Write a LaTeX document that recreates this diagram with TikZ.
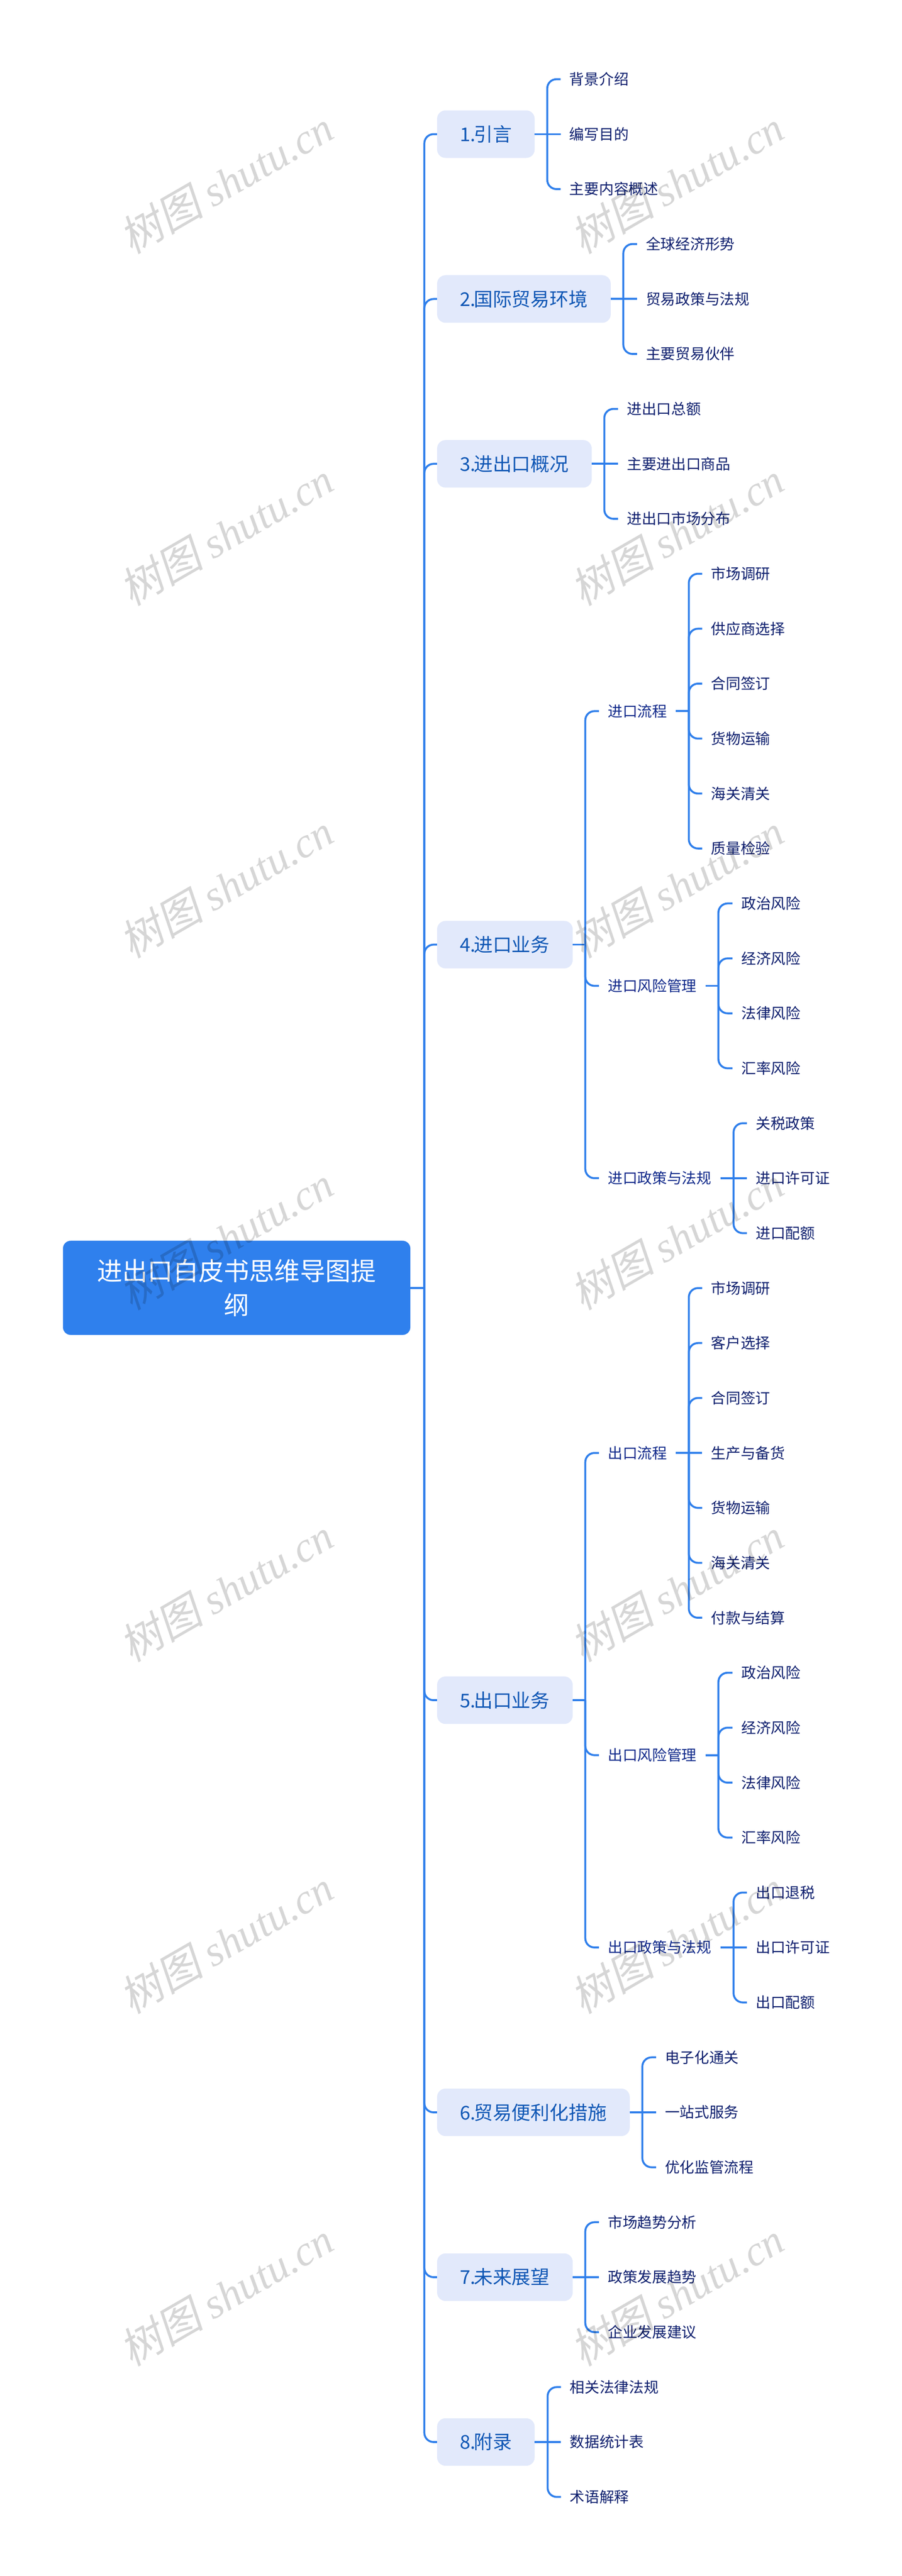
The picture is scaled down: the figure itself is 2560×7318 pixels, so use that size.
\documentclass[tikz,border=0pt]{standalone}
\usepackage{fontspec}
\setmainfont{Noto Sans CJK SC}
\newfontfamily\wmcjk[FakeSlant=0.2]{Noto Sans CJK SC}
\newfontfamily\wmlat{Liberation Serif}
\definecolor{linecol}{HTML}{2F7FEB}
\definecolor{rootcol}{HTML}{2F80ED}
\definecolor{tagfill}{HTML}{E2E9FB}
\definecolor{tagtext}{HTML}{0F57B5}
\definecolor{subtext}{HTML}{10298A}
\definecolor{leaftext}{HTML}{0E1F6E}
\tikzset{
  rootbox/.style={fill=rootcol,draw=rootcol,rounded corners=22pt,anchor=center,text=white,align=center,minimum width=986pt,minimum height=267pt,inner sep=0pt,font=\fontsize{72}{96}\selectfont},
  tagbox/.style={fill=tagfill,rounded corners=24pt,anchor=west,text=tagtext,minimum height=135pt,inner xsep=65pt,inner ysep=0pt,text height=46pt,text depth=5pt,font=\fontsize{54}{60}\selectfont},
  subnode/.style={anchor=west,text=subtext,inner xsep=25pt,inner ysep=0pt,text height=36pt,text depth=4pt,font=\fontsize{42}{48}\selectfont},
  leafnode/.style={anchor=west,text=leaftext,inner xsep=25pt,inner ysep=0pt,text height=36pt,text depth=4pt,font=\fontsize{42}{48}\selectfont},
  wire/.style={draw=linecol,line width=5.5pt},
  curvewire/.style={wire,rounded corners=26pt},
  wmark/.style={rotate=30,text=black,text opacity=0.16,inner sep=0pt,font=\fontsize{120}{130}\selectfont}
}
\newcommand{\rowy}[1]{225+156.1*(#1)}
\newcommand{\tagn}[3]{\node[tagbox] (#1) at (1241,{\rowy{#2}}) {#3};}
\newcommand{\subn}[3]{\node[subnode] (#1) at (1701,{\rowy{#2}}) {#3};}
\newcommand{\leafn}[4]{\node[leafnode] (#1) at (#2,{\rowy{#3}}) {#4};}
% stub from parent to branch line
\newcommand{\stub}[2]{\coordinate (bx#1) at (#2,0); \draw[wire] (#1.east) -- (#1.east -| bx#1);}
% bent connector from parent's branch to child
\newcommand{\bent}[2]{\draw[curvewire] (#1.east -| bx#1) -- (#2.west -| bx#1) -- (#2.west);}
% child on the parent's own row
\newcommand{\level}[2]{\draw[wire] (#1.east) -- (#2.west);}
\newcommand{\nk}{\kern-6pt}
\begin{document}
\begin{tikzpicture}[x=1pt,y=-1pt]
\useasboundingbox[fill=white] (0,0) rectangle (2560,7318);
% root
\node[rootbox] (root) at (672,3658.5) {进出口白皮书思维导图提\\纲};
% level 1
\tagn{a}{1}{1.\nk 引言}
\tagn{b}{4}{2.\nk 国际贸易环境}
\tagn{c}{7}{3.\nk 进出口概况}
\tagn{d}{15.75}{4.\nk 进口业务}
\tagn{e}{29.5}{5.\nk 出口业务}
\tagn{f}{37}{6.\nk 贸易便利化措施}
\tagn{g}{40}{7.\nk 未来展望}
\tagn{h}{43}{8.\nk 附录}
% root connectors
\stub{root}{1205}
\foreach \n in {a,b,c,d,e,f,g,h} {\bent{root}{\n}}
% 1
\leafn{a1}{1592}{0}{背景介绍}
\leafn{a2}{1592}{1}{编写目的}
\leafn{a3}{1592}{2}{主要内容概述}
\stub{a}{1554}\bent{a}{a1}\level{a}{a2}\bent{a}{a3}
% 2
\leafn{b1}{1809}{3}{全球经济形势}
\leafn{b2}{1809}{4}{贸易政策与法规}
\leafn{b3}{1809}{5}{主要贸易伙伴}
\stub{b}{1770}\bent{b}{b1}\level{b}{b2}\bent{b}{b3}
% 3
\leafn{c1}{1755}{6}{进出口总额}
\leafn{c2}{1755}{7}{主要进出口商品}
\leafn{c3}{1755}{8}{进出口市场分布}
\stub{c}{1716}\bent{c}{c1}\level{c}{c2}\bent{c}{c3}
% 4
\subn{d1}{11.5}{进口流程}
\subn{d2}{16.5}{进口风险管理}
\subn{d3}{20}{进口政策与法规}
\stub{d}{1662}\bent{d}{d1}\bent{d}{d2}\bent{d}{d3}
\leafn{d11}{1994}{9}{市场调研}
\leafn{d12}{1994}{10}{供应商选择}
\leafn{d13}{1994}{11}{合同签订}
\leafn{d14}{1994}{12}{货物运输}
\leafn{d15}{1994}{13}{海关清关}
\leafn{d16}{1994}{14}{质量检验}
\stub{d1}{1956}
\foreach \n in {d11,d12,d13,d14,d15,d16} {\bent{d1}{\n}}
\leafn{d21}{2080}{15}{政治风险}
\leafn{d22}{2080}{16}{经济风险}
\leafn{d23}{2080}{17}{法律风险}
\leafn{d24}{2080}{18}{汇率风险}
\stub{d2}{2040}
\foreach \n in {d21,d22,d23,d24} {\bent{d2}{\n}}
\leafn{d31}{2121}{19}{关税政策}
\leafn{d32}{2121}{20}{进口许可证}
\leafn{d33}{2121}{21}{进口配额}
\stub{d3}{2083}\bent{d3}{d31}\level{d3}{d32}\bent{d3}{d33}
% 5
\subn{e1}{25}{出口流程}
\subn{e2}{30.5}{出口风险管理}
\subn{e3}{34}{出口政策与法规}
\stub{e}{1662}\bent{e}{e1}\bent{e}{e2}\bent{e}{e3}
\leafn{e11}{1994}{22}{市场调研}
\leafn{e12}{1994}{23}{客户选择}
\leafn{e13}{1994}{24}{合同签订}
\leafn{e14}{1994}{25}{生产与备货}
\leafn{e15}{1994}{26}{货物运输}
\leafn{e16}{1994}{27}{海关清关}
\leafn{e17}{1994}{28}{付款与结算}
\stub{e1}{1956}\level{e1}{e14}
\foreach \n in {e11,e12,e13,e15,e16,e17} {\bent{e1}{\n}}
\leafn{e21}{2080}{29}{政治风险}
\leafn{e22}{2080}{30}{经济风险}
\leafn{e23}{2080}{31}{法律风险}
\leafn{e24}{2080}{32}{汇率风险}
\stub{e2}{2040}
\foreach \n in {e21,e22,e23,e24} {\bent{e2}{\n}}
\leafn{e31}{2121}{33}{出口退税}
\leafn{e32}{2121}{34}{出口许可证}
\leafn{e33}{2121}{35}{出口配额}
\stub{e3}{2083}\bent{e3}{e31}\level{e3}{e32}\bent{e3}{e33}
% 6
\leafn{f1}{1863}{36}{电子化通关}
\leafn{f2}{1863}{37}{一站式服务}
\leafn{f3}{1863}{38}{优化监管流程}
\stub{f}{1824}\bent{f}{f1}\level{f}{f2}\bent{f}{f3}
% 7
\leafn{g1}{1701}{39}{市场趋势分析}
\leafn{g2}{1701}{40}{政策发展趋势}
\leafn{g3}{1701}{41}{企业发展建议}
\stub{g}{1662}\bent{g}{g1}\level{g}{g2}\bent{g}{g3}
% 8
\leafn{h1}{1593}{42}{相关法律法规}
\leafn{h2}{1593}{43}{数据统计表}
\leafn{h3}{1593}{44}{术语解释}
\stub{h}{1555}\bent{h}{h1}\level{h}{h2}\bent{h}{h3}
% watermarks
\foreach \r in {0,...,6} {
  \node[wmark] (wml\r) at (642,{517+1000*\r}) {{\wmcjk 树图} {\wmlat\itshape shutu.cn}};
  \node[wmark] (wmr\r) at (1922,{517+1000*\r}) {{\wmcjk 树图} {\wmlat\itshape shutu.cn}};
}
\end{tikzpicture}
\end{document}
